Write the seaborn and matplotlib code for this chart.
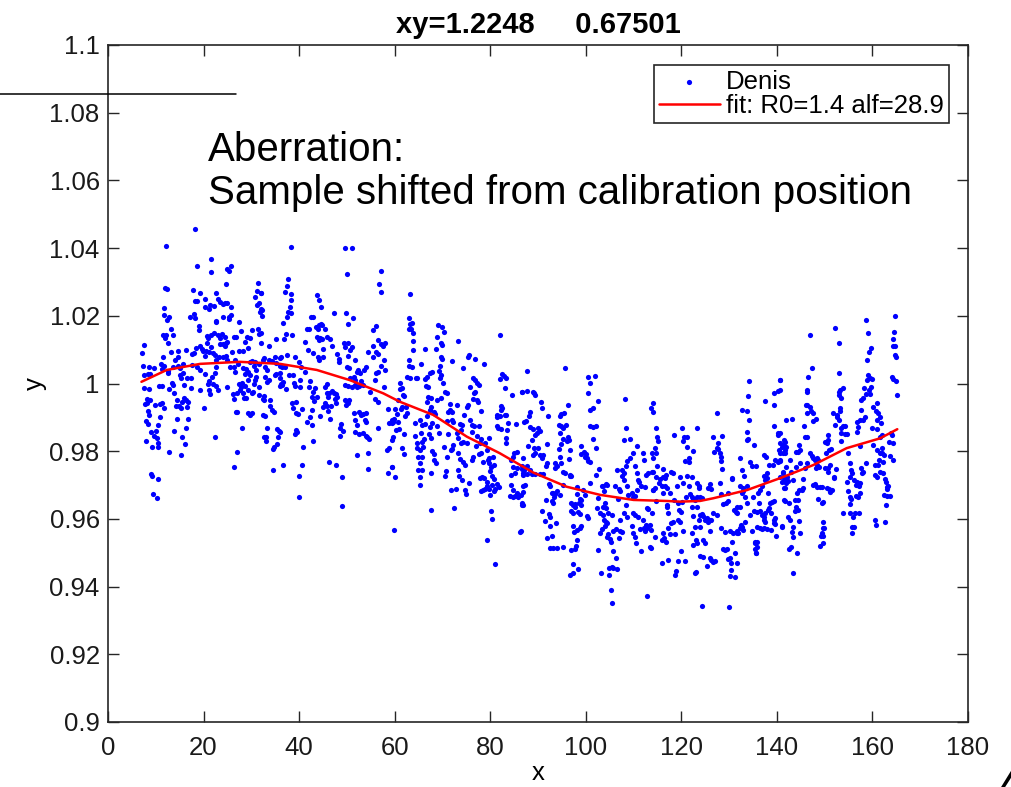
import matplotlib
matplotlib.use('Agg')
import matplotlib.pyplot as plt
import seaborn as sns
import pandas as pd
from matplotlib.lines import Line2D

# scatter points, grouped by x range
seg_a = [
    (7.5, 1.0115), (7.2, 1.0089), (7.3, 1.0052), (7.5, 1.0024), (7.5, 0.9987), (8.3, 1.0028), (8.5, 1.0050),
    (7.7, 0.9938), (8.2, 0.9941), (8.1, 0.9955), (8.8, 0.9951), (8.3, 0.9920), (8.6, 0.9907), (7.9, 0.9890),
    (8.3, 0.9880), (8.0, 0.9831), (9.0, 0.9857), (9.2, 0.9813), (9.1, 0.9732), (9.3, 0.9727), (10.4, 0.9718),
    (9.5, 0.9673), (10.2, 0.9663), (8.6, 0.9983), (8.8, 1.0028), (9.7, 1.0047), (10.0, 0.9859), (9.7, 0.9845),
    (10.2, 0.9839), (10.5, 0.9823), (10.4, 0.9811), (9.8, 0.9936), (10.9, 0.9938), (11.4, 0.9941), (10.7, 0.9993),
    (11.4, 0.9993), (11.1, 1.0058), (11.2, 1.0044), (11.8, 1.0053), (11.5, 1.0079), (11.6, 1.0142), (12.1, 1.0143),
    (12.0, 1.0135), (12.6, 1.0119), (13.1, 1.0160), (13.7, 1.0144), (13.1, 1.0094), (12.6, 1.0038), (13.3, 1.0002),
    (13.5, 0.9997), (12.8, 0.9985), (13.8, 0.9973), (12.6, 1.0030), (10.8, 0.9902), (10.5, 0.9877), (11.8, 0.9927),
    (13.9, 0.9861), (12.8, 0.9798), (14.4, 0.9896), (14.4, 0.9951), (14.2, 0.9935), (14.8, 0.9934), (13.5, 1.0050),
    (14.0, 1.0069), (14.6, 1.0077), (14.7, 1.0053), (15.1, 1.0045), (14.7, 1.0097), (11.7, 1.0201), (12.7, 1.0197),
    (12.4, 1.0189), (11.7, 1.0223), (12.1, 1.0405), (11.9, 1.0282), (12.3, 1.0280), (15.4, 0.9946), (15.9, 0.9956),
    (16.3, 0.9951), (16.8, 0.9946), (15.3, 0.9929), (16.5, 0.9931), (15.1, 1.0025), (15.6, 1.0032), (15.3, 1.0015),
    (15.8, 1.0057), (16.4, 1.0100), (16.6, 1.0017), (17.4, 1.0016), (16.0, 0.9996), (16.7, 0.9894), (16.3, 0.9870),
    (15.4, 0.9843), (16.1, 0.9821), (15.3, 0.9788), (17.5, 1.0086), (17.9, 1.0091), (18.4, 1.0105), (17.5, 1.0054),
    (18.6, 1.0050), (19.3, 1.0040), (17.4, 0.9986), (19.2, 0.9980), (17.2, 1.0197), (17.9, 1.0204), (18.2, 1.0194),
    (19.0, 1.0171), (19.0, 1.0158), (17.7, 1.0277), (18.2, 1.0245), (18.7, 1.0245), (19.2, 1.0268), (18.2, 1.0456),
    (18.7, 1.0346), (19.3, 1.0111), (19.6, 1.0102), (19.9, 1.0096), (20.2, 1.0081), (20.0, 0.9927), (20.4, 1.0251),
    (21.3, 1.0233), (20.2, 1.0225), (21.1, 1.0219), (22.1, 1.0229), (21.5, 1.0367), (21.6, 1.0330), (20.7, 1.0140),
    (20.9, 1.0135), (21.6, 1.0144), (20.8, 1.0119), (21.5, 1.0109), (20.5, 1.0097), (21.1, 1.0094), (22.1, 1.0149),
    (23.0, 1.0142), (22.7, 1.0183), (23.5, 1.0133), (23.9, 1.0146), (24.4, 1.0136), (21.9, 1.0089), (22.4, 1.0084),
    (23.2, 1.0079), (22.7, 1.0069), (20.4, 1.0028), (21.1, 1.0008), (20.9, 0.9998), (21.9, 0.9998), (21.2, 0.9981),
    (22.5, 0.9992), (21.4, 0.9969), (21.8, 1.0020), (22.4, 1.0030), (22.7, 1.0048), (23.0, 0.9981), (22.3, 0.9841),
    (23.1, 1.0251), (23.5, 1.0242), (24.5, 1.0237), (24.9, 1.0237), (24.1, 1.0235), (22.7, 1.0268), (23.4, 1.0117),
    (24.0, 1.0117), (24.4, 1.0111), (24.6, 1.0119), (24.9, 1.0123), (24.0, 1.0079), (24.7, 1.0081), (24.6, 1.0295),
    (25.7, 1.0348), (24.9, 1.0337), (25.3, 1.0332), (25.8, 1.0225), (25.4, 1.0197), (24.1, 1.0195), (25.3, 1.0191),
    (25.7, 1.0202), (22.7, 1.0184), (27.4, 1.0183), (27.8, 1.0156), (26.3, 1.0137), (26.8, 1.0138), (25.0, 1.0069),
    (26.0, 1.0094), (26.6, 1.0069), (27.3, 1.0059), (26.3, 1.0050), (26.6, 1.0035), (25.5, 1.0050), (25.0, 0.9991),
    (26.2, 0.9969), (26.3, 0.9955), (27.1, 0.9971), (26.7, 0.9917), (27.1, 0.9916), (28.0, 0.9870), (26.9, 0.9799),
    (26.4, 0.9752), (27.4, 1.0000), (27.8, 0.9990), (28.0, 1.0002), (28.7, 0.9993), (27.7, 0.9981), (28.3, 0.9971),
    (28.4, 0.9956), (28.9, 0.9956), (29.2, 0.9981), (28.3, 1.0045), (28.9, 1.0042), (29.2, 1.0035), (28.7, 1.0027),
    (29.7, 1.0024), (29.2, 1.0010), (28.7, 1.0124), (29.1, 1.0138), (29.7, 1.0133), (27.5, 1.0097), (28.2, 1.0097),
    (29.4, 1.0104), (30.2, 1.0158), (31.3, 1.0162), (31.6, 1.0146), (32.0, 1.0120), (29.4, 0.9912), (29.7, 0.9906),
    (30.1, 0.9912), (30.2, 0.9971), (30.4, 0.9974), (30.9, 1.0040), (30.6, 1.0053), (30.9, 1.0020), (30.8, 1.0010),
    (30.6, 1.0000), (31.5, 1.0058), (31.5, 0.9966), (31.5, 0.9991), (30.1, 1.0067), (30.8, 1.0064), (29.7, 1.0064),
    (31.1, 1.0274), (32.0, 1.0267), (30.8, 1.0255), (31.6, 1.0239), (31.2, 1.0233), (32.0, 1.0219), (31.8, 1.0212),
    (31.3, 1.0297), (32.5, 1.0069), (32.6, 0.9951), (32.5, 0.9907), (32.6, 0.9843),
]

seg_b = [
    (38.2, 1.0402), (49.7, 1.0399), (51.1, 1.0399), (50.0, 1.0323), (57.1, 1.0332), (56.7, 1.0293), (57.1, 1.0270),
    (37.7, 1.0310), (37.5, 1.0288), (37.0, 1.0269), (38.2, 1.0263), (38.4, 1.0247), (38.0, 1.0227), (37.7, 1.0210),
    (38.3, 1.0207), (37.4, 1.0195), (36.6, 1.0180), (37.3, 1.0146), (36.8, 1.0132), (35.2, 1.0130), (38.6, 1.0143),
    (32.2, 1.0217), (32.2, 1.0200), (32.1, 1.0266), (32.1, 1.0148), (33.6, 1.0110), (32.6, 1.0074), (33.7, 1.0068),
    (35.0, 1.0079), (36.0, 1.0074), (36.3, 1.0079), (37.4, 1.0084), (34.3, 1.0066), (35.1, 1.0062), (32.9, 1.0050),
    (33.3, 1.0041), (32.9, 1.0020), (33.7, 1.0010), (33.2, 1.0004), (34.9, 1.0025), (35.2, 1.0028), (36.1, 1.0052),
    (36.5, 1.0048), (37.0, 1.0048), (36.1, 1.0030), (35.9, 1.0015), (36.6, 1.0005), (36.5, 0.9997), (36.2, 1.0000),
    (37.2, 0.9985), (36.1, 0.9994), (37.9, 1.0026), (38.7, 1.0026), (39.1, 1.0077), (39.9, 1.0063), (40.3, 1.0050),
    (38.9, 1.0002), (39.1, 0.9993), (40.2, 1.0011), (41.2, 1.0034), (42.1, 0.9989), (42.3, 1.0008), (40.2, 0.9991),
    (32.6, 0.9964), (32.5, 0.9953), (32.9, 0.9904), (34.0, 0.9951), (34.0, 0.9935), (34.4, 0.9922), (34.7, 0.9917),
    (33.3, 0.9868), (33.0, 0.9843), (33.1, 0.9831), (34.5, 0.9806), (34.8, 0.9813), (35.3, 0.9821), (35.4, 0.9866),
    (35.7, 0.9860), (35.6, 0.9843), (35.9, 0.9857), (34.5, 0.9745), (36.6, 0.9759), (38.6, 0.9941), (39.4, 0.9944),
    (38.8, 0.9927), (39.4, 0.9912), (40.5, 0.9924), (39.8, 0.9909), (39.3, 0.9863), (39.5, 0.9857), (39.1, 0.9851),
    (40.9, 0.9813), (40.7, 0.9760), (40.0, 0.9728), (40.0, 0.9664), (41.6, 0.9887), (42.6, 0.9877), (43.0, 0.9830),
    (42.3, 0.9902), (42.8, 0.9922), (43.1, 0.9947), (42.6, 0.9961), (43.7, 0.9961), (43.0, 0.9976), (43.3, 0.9986),
    (44.4, 0.9905), (45.1, 0.9932), (45.5, 0.9943), (45.9, 0.9935), (46.0, 0.9961), (45.9, 1.0000), (45.4, 0.9991),
    (45.8, 0.9973), (46.3, 0.9971), (46.8, 0.9979), (47.2, 0.9971), (47.7, 0.9969), (48.0, 0.9961), (46.6, 0.9935),
    (46.1, 0.9920), (46.5, 0.9895), (47.5, 0.9953), (47.8, 0.9941), (46.3, 0.9769), (47.7, 0.9758), (49.0, 0.9725),
    (48.9, 0.9639), (48.8, 0.9880), (48.6, 0.9868), (49.1, 0.9861), (48.6, 0.9845), (49.8, 0.9937), (50.1, 0.9948),
    (50.4, 0.9951), (49.6, 0.9996), (50.3, 0.9994), (51.0, 0.9991), (51.6, 0.9995), (52.1, 0.9991), (52.5, 0.9993),
    (52.9, 1.0007), (53.4, 0.9997), (43.5, 1.0168), (44.2, 1.0172), (44.5, 1.0175), (44.8, 1.0173), (45.5, 1.0162),
    (43.9, 1.0160), (41.6, 1.0162), (42.1, 1.0161), (42.4, 1.0197), (43.0, 1.0195), (43.7, 1.0261), (44.2, 1.0247),
    (44.6, 1.0227), (47.2, 1.0207), (43.8, 1.0138), (44.4, 1.0135), (44.2, 1.0128), (44.7, 1.0130), (45.1, 1.0102),
    (45.8, 1.0138), (46.5, 1.0132), (46.8, 1.0111), (41.2, 1.0124), (41.9, 1.0099), (43.0, 1.0089), (43.9, 1.0077),
    (45.1, 1.0077), (44.2, 1.0069), (47.9, 1.0087), (48.4, 1.0072), (48.3, 1.0063), (49.4, 1.0119), (49.5, 1.0107),
    (50.2, 1.0081), (50.3, 1.0119), (50.7, 1.0099), (51.0, 1.0107), (49.8, 1.0207), (50.3, 1.0176), (51.2, 1.0194),
    (50.1, 1.0050), (50.4, 1.0045), (51.6, 1.0069), (52.4, 1.0040), (52.7, 1.0032), (53.6, 1.0040), (54.0, 1.0048),
    (50.7, 1.0015), (51.5, 1.0020), (51.8, 1.0011), (52.2, 1.0035), (49.7, 0.9951), (50.3, 0.9941), (51.4, 0.9912),
    (51.7, 0.9892), (52.1, 0.9877), (52.5, 0.9916), (52.9, 0.9907), (53.4, 0.9910), (53.9, 0.9912), (53.7, 0.9892),
    (54.1, 0.9887), (51.8, 0.9858), (52.6, 0.9851), (53.4, 0.9853), (53.9, 0.9846), (54.3, 0.9843), (54.6, 0.9835),
    (52.2, 0.9789), (54.5, 0.9794), (54.4, 0.9746), (54.5, 1.0094), (55.5, 1.0111), (56.1, 1.0094), (55.5, 1.0158),
    (56.1, 1.0170), (56.6, 1.0128), (55.5, 1.0079), (56.6, 1.0087), (57.1, 1.0117), (57.5, 1.0111), (58.0, 1.0121),
    (54.8, 0.9976), (55.9, 1.0011), (56.0, 1.0030), (56.6, 1.0035), (57.1, 1.0052), (57.8, 1.0070), (58.0, 1.0040),
    (56.6, 0.9868), (55.9, 0.9954), (56.5, 0.9946), (57.8, 0.9991), (58.7, 0.9924), (58.8, 0.9884), (59.4, 0.9892),
    (58.9, 0.9808), (58.3, 0.9803), (58.7, 0.9736), (59.4, 0.9754), (59.7, 0.9887),
]

seg_c = [
    (63.2, 1.0264), (62.9, 1.0193), (63.3, 1.0176), (63.7, 1.0178), (63.0, 1.0160), (63.4, 1.0161), (63.9, 1.0148),
    (63.9, 1.0126), (63.8, 1.0099), (63.1, 1.0070), (62.9, 1.0052), (63.7, 1.0049), (62.6, 1.0020), (63.3, 1.0015),
    (64.5, 1.0015), (64.7, 1.0015), (65.6, 1.0058), (66.3, 1.0101), (61.2, 1.0001), (61.5, 0.9986), (61.1, 0.9983),
    (61.7, 0.9966), (61.9, 0.9963), (60.8, 0.9951), (61.3, 0.9924), (61.6, 0.9932), (62.4, 0.9932), (62.5, 0.9914),
    (62.1, 0.9905), (60.1, 0.9926), (60.4, 0.9910), (59.9, 0.9894), (60.6, 0.9887), (59.4, 0.9882), (59.7, 0.9843),
    (59.4, 0.9833), (60.3, 0.9863), (61.0, 0.9865), (62.0, 0.9851), (61.5, 0.9810), (62.0, 0.9792), (59.4, 0.9754),
    (60.1, 0.9725), (59.9, 0.9567), (64.2, 0.9882), (64.3, 0.9845), (64.7, 0.9823), (65.3, 0.9892), (65.8, 0.9878),
    (66.3, 0.9880), (65.5, 0.9853), (66.2, 0.9837), (65.7, 0.9828), (64.7, 0.9809), (65.2, 0.9804), (66.0, 0.9813),
    (64.9, 0.9784), (65.7, 0.9782), (65.3, 0.9764), (64.9, 0.9744), (65.8, 0.9744), (65.4, 0.9725), (65.4, 0.9700),
    (66.3, 1.0014), (66.8, 1.0020), (67.3, 1.0032), (67.9, 1.0034), (66.9, 0.9991), (66.6, 0.9993), (67.0, 0.9961),
    (67.5, 0.9956), (66.7, 0.9946), (67.7, 0.9932), (67.4, 0.9922), (66.8, 0.9904), (67.9, 0.9882), (67.4, 0.9872),
    (68.2, 0.9917), (68.4, 0.9910), (68.8, 0.9951), (67.2, 0.9850), (67.5, 0.9838), (67.9, 0.9802), (68.2, 0.9792),
    (68.3, 0.9774), (68.7, 0.9766), (67.6, 0.9735), (67.7, 0.9626), (68.9, 0.9874), (68.6, 1.0101), (68.9, 1.0136),
    (69.0, 1.0173), (69.6, 1.0119), (70.0, 1.0113), (70.0, 1.0166), (70.3, 1.0152), (69.8, 1.0077), (70.0, 1.0073),
    (69.5, 1.0052), (69.3, 1.0038), (69.8, 1.0025), (69.5, 1.0015), (70.2, 1.0001), (70.9, 0.9971), (69.6, 0.9956),
    (70.5, 0.9976), (69.3, 0.9853), (70.4, 0.9813), (70.9, 0.9784), (70.7, 0.9742), (70.5, 0.9727), (71.2, 0.9917),
    (71.6, 0.9922), (71.0, 0.9890), (71.2, 0.9851), (71.8, 0.9804), (71.6, 0.9940), (71.9, 0.9917), (72.1, 0.9892),
    (72.3, 0.9887), (71.9, 0.9806), (72.3, 0.9817), (72.1, 1.0065), (73.2, 1.0126), (74.2, 1.0045), (73.0, 0.9937),
    (71.8, 0.9685), (72.4, 0.9631), (72.8, 0.9687), (73.0, 0.9853), (73.3, 0.9838), (73.8, 0.9863), (73.9, 0.9825),
    (74.4, 0.9828), (73.3, 0.9794), (73.7, 0.9776), (74.2, 0.9769), (74.7, 0.9759), (73.3, 0.9744), (73.5, 0.9727),
    (74.0, 0.9715), (74.7, 0.9685), (74.9, 0.9674), (75.5, 0.9707), (73.7, 0.9880), (74.0, 0.9877), (74.5, 0.9907),
    (75.2, 0.9825), (75.8, 0.9892), (76.2, 0.9877), (76.1, 0.9858), (76.6, 0.9873), (76.3, 0.9784), (76.2, 0.9774),
    (77.0, 0.9814), (75.1, 0.9932), (75.3, 0.9937), (75.8, 0.9991), (76.3, 1.0015), (76.8, 1.0010), (77.3, 1.0001),
    (75.4, 1.0079), (75.6, 1.0084), (76.8, 1.0071), (77.6, 0.9997), (76.6, 0.9971), (76.8, 0.9976), (77.2, 0.9951),
    (77.5, 0.9946), (76.3, 0.9953), (77.6, 0.9873), (77.3, 0.9845), (77.9, 0.9825), (78.1, 0.9835), (78.0, 0.9920),
    (77.7, 0.9792), (78.0, 0.9794), (78.4, 0.9769), (78.2, 0.9725), (78.6, 0.9720), (77.9, 0.9720), (78.0, 0.9683),
    (78.4, 0.9685), (78.9, 0.9687), (78.6, 1.0058), (79.0, 0.9825), (79.3, 0.9804), (79.7, 0.9838), (79.4, 0.9710),
    (79.5, 0.9774), (79.7, 0.9764), (80.1, 0.9754), (79.9, 0.9742), (80.3, 0.9727), (80.7, 0.9718), (79.4, 0.9697),
    (79.8, 0.9687), (80.3, 0.9699), (79.9, 0.9671), (79.4, 0.9538), (80.1, 0.9624), (80.3, 0.9599), (81.0, 0.9466),
    (80.7, 0.9683), (81.1, 0.9689), (81.5, 0.9703), (81.9, 0.9693), (80.5, 0.9784), (80.7, 0.9759), (79.7, 0.9779),
    (81.4, 0.9902), (81.5, 0.9907), (82.0, 0.9904), (82.3, 0.9934), (82.5, 0.9927), (82.3, 0.9922), (83.1, 0.9907),
    (83.4, 0.9907), (82.0, 1.0012), (82.4, 1.0028), (82.9, 1.0022), (83.2, 1.0015), (83.1, 0.9986), (82.0, 1.0142),
    (81.4, 0.9873), (81.6, 0.9868), (82.2, 0.9866), (83.7, 0.9882), (83.6, 0.9863), (83.3, 0.9838), (83.4, 0.9825),
    (84.6, 0.9966), (85.4, 0.9880), (85.5, 0.9799), (85.0, 0.9796), (84.4, 0.9774), (84.7, 0.9784), (84.8, 0.9754),
    (85.5, 0.9749), (85.2, 0.9735), (84.3, 0.9730), (84.3, 0.9700), (84.8, 0.9685), (85.5, 0.9676), (85.9, 0.9666),
    (86.4, 0.9671), (86.8, 0.9680), (86.6, 0.9641), (86.2, 0.9562), (86.6, 0.9976), (87.1, 0.9887), (86.6, 0.9746),
    (86.9, 0.9735), (85.2, 0.9667), (84.1, 0.9667), (84.7, 0.9664),
]

seg_d = [
    (87.8, 1.0038), (86.6, 0.9976), (87.6, 0.9979), (89.0, 0.9976), (89.4, 0.9966), (89.2, 0.9971), (90.6, 0.9945),
    (90.9, 0.9929), (88.3, 0.9917), (88.1, 0.9904), (87.4, 0.9890), (88.3, 0.9871), (89.0, 0.9865), (89.4, 0.9848),
    (89.7, 0.9855), (90.1, 0.9868), (90.4, 0.9861), (88.7, 0.9834), (89.2, 0.9809), (89.9, 0.9808), (89.0, 0.9789),
    (89.4, 0.9794), (90.4, 0.9789), (91.1, 0.9789), (90.8, 0.9779), (86.9, 0.9779), (88.0, 0.9816), (86.6, 0.9757),
    (87.6, 0.9755), (87.1, 0.9743), (86.8, 0.9730), (88.3, 0.9743), (87.8, 0.9732), (88.7, 0.9732), (89.4, 0.9733),
    (90.4, 0.9732), (91.1, 0.9732), (91.8, 0.9765), (91.7, 0.9755), (86.9, 0.9696), (87.3, 0.9699), (86.6, 0.9648),
    (86.9, 0.9641), (86.4, 0.9563), (92.0, 0.9904), (91.9, 0.9822), (92.2, 0.9704), (92.5, 0.9696), (93.6, 0.9750),
    (93.9, 0.9755), (92.9, 0.9676), (93.2, 0.9676), (93.6, 0.9674), (93.9, 0.9681), (94.7, 0.9671), (93.4, 0.9666),
    (92.9, 0.9654), (93.1, 0.9647), (91.7, 0.9656), (90.8, 0.9622), (91.5, 0.9595), (92.4, 0.9615), (92.6, 0.9607),
    (92.5, 0.9580), (93.8, 0.9587), (92.9, 0.9550), (91.8, 0.9543), (92.5, 0.9514), (93.2, 0.9513), (93.9, 0.9513),
    (95.3, 0.9518), (94.3, 0.9878), (94.6, 0.9855), (94.9, 0.9873), (95.3, 0.9868), (95.8, 0.9878), (94.6, 0.9904),
    (94.9, 0.9910), (95.4, 0.9914), (95.3, 0.9836), (96.2, 0.9843), (96.4, 0.9834), (96.7, 0.9804), (96.0, 0.9829),
    (94.9, 0.9822), (94.3, 0.9807), (95.7, 1.0045), (96.2, 0.9937), (93.6, 0.9765), (94.9, 0.9765), (94.5, 0.9784),
    (95.2, 0.9740), (95.6, 0.9737), (96.6, 0.9730), (96.9, 0.9727), (95.3, 0.9699), (96.5, 0.9776), (96.7, 0.9727),
    (97.0, 0.9646), (97.4, 0.9641), (97.7, 0.9644), (97.0, 0.9622), (97.4, 0.9617), (97.7, 0.9636), (98.4, 0.9619),
    (98.8, 0.9615), (97.3, 0.9579), (97.6, 0.9560), (98.2, 0.9568), (98.7, 0.9573), (99.0, 0.9579), (98.1, 0.9538),
    (97.9, 0.9520), (97.0, 0.9508), (97.7, 0.9510), (97.4, 0.9467), (97.3, 0.9440), (96.7, 0.9433), (98.4, 0.9453),
    (98.1, 0.9674), (98.2, 0.9693), (98.8, 0.9658), (99.1, 0.9641), (98.6, 0.9648), (99.1, 0.9816), (99.6, 0.9799),
    (100.0, 0.9792), (99.8, 0.9784), (100.2, 0.9779), (100.5, 0.9771), (100.9, 0.9769), (99.1, 0.9792),
    (99.5, 0.9684), (99.8, 0.9671), (99.1, 0.9656), (100.5, 1.0019), (101.9, 1.0023), (100.9, 1.0001),
    (100.5, 0.9971), (100.9, 0.9922), (101.6, 0.9927), (100.9, 0.9875), (101.6, 0.9871), (102.1, 0.9873),
    (101.6, 0.9835), (102.1, 0.9809), (102.6, 0.9947), (100.9, 0.9707), (100.2, 0.9609), (100.5, 0.9602),
    (102.1, 0.9730), (102.8, 0.9747), (102.5, 0.9661), (102.4, 0.9632), (103.0, 0.9617), (103.3, 0.9696),
    (103.0, 0.9558), (103.3, 0.9570), (102.6, 0.9509), (103.2, 0.9440), (103.7, 0.9696), (104.2, 0.9704),
    (104.5, 0.9701), (103.8, 0.9681), (104.0, 0.9648), (103.5, 0.9636), (104.2, 0.9632), (103.7, 0.9612),
    (103.8, 0.9597), (104.2, 0.9592), (104.5, 0.9589), (104.0, 0.9579), (104.7, 0.9556), (104.5, 0.9548),
    (105.1, 0.9540), (105.2, 0.9533), (104.7, 0.9617), (105.4, 0.9612), (104.9, 0.9454), (105.4, 0.9459),
    (104.9, 0.9435), (105.8, 0.9454), (106.3, 0.9484), (106.5, 0.9451), (105.2, 0.9390), (105.4, 0.9351),
    (105.6, 0.9504), (105.8, 0.9563), (106.3, 0.9570), (106.8, 0.9658), (107.2, 0.9681), (107.5, 0.9727),
    (107.9, 0.9715), (108.6, 0.9696), (106.1, 0.9696), (107.0, 0.9688), (106.5, 0.9745), (107.5, 0.9745),
    (108.0, 0.9735), (108.4, 0.9757), (108.7, 0.9772), (109.3, 0.9779), (107.9, 0.9834), (109.3, 0.9836),
    (108.4, 0.9868), (108.2, 0.9954), (107.2, 0.9597), (107.2, 0.9563), (107.5, 0.9560), (107.0, 0.9545),
    (107.9, 0.9617), (108.4, 0.9641), (108.7, 0.9607), (108.9, 0.9671), (109.6, 0.9676), (109.9, 0.9666),
    (110.3, 0.9668), (110.7, 0.9684), (109.9, 0.9617), (110.3, 0.9612), (111.0, 0.9607), (109.6, 0.9578),
    (109.9, 0.9558), (110.3, 0.9548), (110.5, 0.9530), (111.4, 0.9570), (112.2, 0.9573), (112.4, 0.9563),
    (112.6, 0.9582), (110.7, 0.9816), (109.9, 0.9794), (110.3, 0.9755), (110.7, 0.9735), (111.0, 0.9715),
    (111.2, 0.9710), (111.5, 0.9698), (112.0, 0.9794), (112.2, 0.9774), (112.6, 0.9730), (113.1, 0.9737),
    (113.8, 0.9740), (112.4, 0.9694), (112.8, 0.9632), (113.1, 0.9629), (112.0, 0.9597), (112.8, 0.9573),
    (113.4, 0.9516), (112.9, 0.9373), (111.5, 0.9504), (113.6, 0.9927), (114.0, 0.9917), (114.1, 0.9942),
    (114.0, 0.9686),
]

seg_e = [
    (114.7, 0.9870), (115.0, 0.9843), (115.2, 0.9829), (114.5, 0.9809), (114.8, 0.9794), (113.8, 0.9794),
    (114.1, 0.9779), (115.0, 0.9757), (114.0, 0.9740), (114.8, 0.9725), (115.5, 0.9717), (116.2, 0.9747),
    (116.7, 0.9730), (116.1, 0.9725), (116.6, 0.9720), (115.4, 0.9705), (115.9, 0.9696), (116.6, 0.9696),
    (116.9, 0.9691), (116.2, 0.9676), (114.5, 0.9691), (114.1, 0.9686), (114.7, 0.9654), (113.8, 0.9617),
    (113.4, 0.9582), (113.6, 0.9568), (113.6, 0.9513), (114.5, 0.9548), (116.1, 0.9558), (115.9, 0.9538),
    (116.8, 0.9533), (116.4, 0.9543), (117.6, 0.9556), (117.3, 0.9573), (117.8, 0.9589), (118.3, 0.9592),
    (117.3, 0.9617), (116.9, 0.9636), (117.1, 0.9641), (117.6, 0.9676), (117.9, 0.9740), (118.3, 0.9737),
    (118.5, 0.9848), (119.0, 0.9698), (118.5, 0.9656), (119.4, 0.9646), (120.1, 0.9651), (119.6, 0.9625),
    (119.9, 0.9619), (119.4, 0.9597), (119.7, 0.9592), (120.4, 0.9563), (118.7, 0.9556), (115.9, 0.9469),
    (117.3, 0.9479), (118.7, 0.9435), (118.9, 0.9447), (119.4, 0.9477), (120.8, 0.9476), (119.9, 0.9504),
    (120.2, 0.9868), (120.3, 0.9829), (120.6, 0.9842), (121.1, 0.9842), (121.1, 0.9812), (120.8, 0.9772),
    (121.7, 0.9779), (121.7, 0.9767), (122.5, 0.9802), (123.2, 0.9870), (119.7, 0.9725), (120.4, 0.9705),
    (121.1, 0.9727), (122.2, 0.9725), (121.5, 0.9696), (121.8, 0.9673), (122.2, 0.9664), (122.5, 0.9658),
    (121.0, 0.9666), (122.2, 0.9636), (122.9, 0.9656), (123.2, 0.9666), (123.2, 0.9636), (123.9, 0.9612),
    (124.3, 0.9614), (123.8, 0.9597), (123.9, 0.9575), (124.6, 0.9609), (122.5, 0.9609), (122.9, 0.9577),
    (123.1, 0.9538), (122.4, 0.9523), (122.2, 0.9558), (123.2, 0.9528), (123.3, 0.9705), (123.6, 0.9696),
    (123.8, 0.9691), (124.0, 0.9666), (124.3, 0.9661), (125.6, 0.9691), (126.0, 0.9703), (126.3, 0.9688),
    (124.6, 0.9538), (124.9, 0.9528), (124.6, 0.9487), (123.9, 0.9489), (125.4, 0.9461), (126.1, 0.9484),
    (126.3, 0.9479), (126.7, 0.9474), (127.1, 0.9477), (124.3, 0.9344), (122.9, 0.9439), (123.1, 0.9444),
    (124.9, 0.9597), (125.3, 0.9602), (125.6, 0.9592), (126.0, 0.9597), (126.3, 0.9597), (126.0, 0.9563),
    (126.7, 0.9617), (127.4, 0.9612), (126.7, 0.9841), (126.8, 0.9799), (127.4, 0.9809), (127.7, 0.9806),
    (128.1, 0.9794), (128.2, 0.9784), (128.4, 0.9772), (128.6, 0.9747), (127.4, 0.9914), (128.6, 0.9846),
    (127.7, 0.9824), (128.1, 0.9705), (128.4, 0.9674), (128.8, 0.9644), (129.3, 0.9646), (129.8, 0.9676),
    (129.8, 0.9653), (130.7, 0.9717), (130.5, 0.9720), (128.4, 0.9573), (129.1, 0.9560), (128.8, 0.9511),
    (129.1, 0.9507), (129.5, 0.9511), (130.2, 0.9484), (129.8, 0.9481), (130.3, 0.9469), (130.4, 0.9449),
    (130.1, 0.9430), (131.2, 0.9428), (129.9, 0.9341), (131.6, 0.9471), (131.2, 0.9499), (130.5, 0.9533),
    (130.9, 0.9558), (130.2, 0.9563), (131.0, 0.9627), (131.4, 0.9619), (131.7, 0.9617), (132.3, 0.9636),
    (131.6, 0.9636), (132.4, 0.9582), (132.3, 0.9573), (131.9, 0.9558), (131.6, 0.9565), (132.3, 0.9779),
    (132.8, 0.9743), (133.1, 0.9727), (133.7, 0.9696), (132.3, 0.9696), (133.0, 0.9691), (132.6, 0.9676),
    (133.3, 0.9664), (133.0, 0.9681), (132.8, 0.9922), (133.7, 0.9920), (134.2, 0.9893), (133.8, 0.9858),
    (133.7, 0.9834), (134.0, 0.9836), (135.2, 0.9819), (134.4, 0.9767), (134.8, 0.9757), (135.6, 0.9757),
    (134.2, 1.0006), (134.0, 0.9964), (135.1, 0.9666), (135.2, 0.9622), (134.4, 0.9612), (135.8, 0.9619),
    (133.7, 0.9646), (133.3, 0.9592), (133.0, 0.9566), (132.6, 0.9575), (131.7, 0.9558), (135.4, 0.9533),
    (135.8, 0.9518), (135.6, 0.9499), (134.7, 0.9563), (136.1, 0.9676), (136.5, 0.9686), (136.8, 0.9696),
    (137.5, 0.9715), (137.2, 0.9727), (138.0, 0.9720), (137.9, 0.9735), (137.2, 0.9789), (137.7, 0.9784),
    (138.4, 0.9760), (139.1, 0.9760), (139.6, 0.9774), (140.3, 0.9769), (140.7, 0.9772), (136.3, 0.9646),
    (136.5, 0.9622), (136.8, 0.9612), (137.2, 0.9607), (137.5, 0.9617), (136.5, 0.9573), (136.8, 0.9570),
    (137.2, 0.9573), (137.9, 0.9570), (137.5, 0.9592), (137.2, 0.9597), (138.2, 0.9676), (138.6, 0.9646),
    (138.9, 0.9651), (139.4, 0.9654), (138.4, 0.9632), (138.7, 0.9617), (139.3, 0.9597), (139.6, 0.9602),
    (139.5, 0.9585), (139.9, 0.9550), (138.7, 0.9568), (139.3, 0.9589), (138.2, 0.9627), (135.4, 0.9510),
    (135.6, 0.9500), (135.8, 0.9533), (135.4, 0.9528), (135.8, 0.9575), (137.5, 0.9947), (139.3, 0.9937),
    (139.4, 0.9971), (140.3, 0.9979), (140.7, 1.0009), (139.4, 0.9875), (140.3, 0.9848), (140.3, 0.9855),
    (140.7, 0.9824), (141.0, 0.9812), (141.4, 0.9816), (140.5, 0.9804), (141.2, 0.9735), (141.4, 0.9725),
    (141.4, 0.9656), (141.0, 0.9578), (141.5, 0.9834), (141.7, 0.9794), (141.6, 0.9691), (141.4, 0.9715),
]

seg_f = [
    (140.6, 1.0011), (140.6, 0.9981), (140.6, 0.9853), (140.6, 0.9794), (140.6, 0.9774), (140.6, 0.9725),
    (141.0, 0.9710), (141.0, 0.9577), (141.2, 0.9818), (141.7, 0.9828), (142.0, 0.9813), (141.3, 0.9794),
    (141.7, 0.9804), (142.0, 0.9754), (141.3, 0.9740), (141.7, 0.9717), (142.2, 0.9725), (142.4, 0.9713),
    (141.5, 0.9690), (142.0, 0.9705), (142.7, 0.9774), (142.9, 0.9740), (143.3, 0.9715), (143.1, 0.9894),
    (142.0, 0.9892), (144.0, 0.9799), (144.1, 0.9754), (144.8, 0.9764), (144.5, 0.9799), (144.9, 0.9804),
    (144.7, 0.9818), (141.7, 0.9654), (142.6, 0.9646), (142.4, 0.9605), (142.7, 0.9597), (143.3, 0.9575),
    (143.1, 0.9562), (143.8, 0.9622), (144.0, 0.9636), (144.3, 0.9676), (143.8, 0.9656), (144.5, 0.9656),
    (144.5, 0.9626), (144.7, 0.9595), (144.8, 0.9559), (143.4, 0.9548), (142.9, 0.9518), (142.6, 0.9510),
    (143.4, 0.9440), (144.3, 0.9498), (144.7, 0.9686), (145.2, 0.9684), (145.4, 0.9691), (145.5, 0.9717),
    (145.9, 0.9750), (146.2, 0.9764), (145.9, 0.9843), (146.4, 0.9843), (145.7, 0.9873), (146.1, 0.9937),
    (146.4, 0.9937), (146.9, 0.9932), (146.4, 0.9912), (147.1, 0.9920), (147.6, 0.9912), (147.5, 0.9890),
    (148.2, 0.9894), (146.9, 1.0144), (147.3, 1.0047), (146.6, 1.0020), (146.2, 0.9981), (146.4, 0.9976),
    (146.9, 0.9794), (147.3, 0.9786), (147.6, 0.9779), (148.0, 0.9774), (148.3, 0.9779), (148.7, 0.9774),
    (147.6, 0.9700), (148.0, 0.9703), (148.3, 0.9695), (149.0, 0.9693), (149.4, 0.9695), (148.7, 0.9659),
    (149.4, 0.9648), (149.7, 0.9651), (149.6, 0.9592), (149.7, 0.9574), (149.4, 0.9557), (149.2, 0.9550),
    (149.6, 0.9528), (149.0, 0.9520), (149.7, 0.9550), (149.9, 0.9572), (148.3, 0.9759), (148.9, 0.9754),
    (148.2, 0.9750), (150.1, 0.9750), (150.1, 0.9828), (150.4, 0.9823), (150.8, 0.9833), (150.3, 0.9794),
    (151.0, 0.9804), (151.3, 0.9806), (151.1, 0.9759), (150.8, 0.9750), (150.4, 0.9690), (151.0, 0.9688),
    (151.5, 0.9684), (151.2, 0.9678), (150.8, 0.9740), (151.9, 0.9720), (150.8, 0.9848), (151.8, 0.9912),
    (152.2, 0.9877), (152.5, 0.9902), (153.1, 0.9892), (152.6, 0.9907), (153.2, 0.9920), (152.2, 1.0163),
    (153.1, 1.0119), (152.9, 1.0030), (153.1, 0.9976), (153.3, 0.9981), (153.9, 0.9986), (152.9, 0.9966),
    (153.5, 0.9956), (153.2, 0.9927), (153.9, 0.9875), (154.2, 0.9873), (153.5, 0.9868), (153.4, 0.9853),
    (154.2, 0.9851), (154.6, 0.9851), (153.5, 0.9831), (152.4, 0.9747), (152.0, 0.9725), (154.9, 0.9794),
    (155.3, 0.9766), (155.6, 0.9744), (155.8, 0.9735), (155.2, 0.9725), (156.1, 0.9715), (156.7, 0.9710),
    (156.6, 0.9700), (154.6, 0.9710), (154.9, 0.9681), (155.4, 0.9666), (155.6, 0.9658), (155.3, 0.9644),
    (155.4, 0.9616), (156.0, 0.9605), (155.8, 0.9577), (156.1, 0.9575), (155.8, 0.9559), (156.3, 0.9618),
    (157.2, 0.9616), (153.9, 0.9616), (156.6, 0.9668), (157.0, 0.9666), (157.4, 0.9676), (156.7, 0.9887),
    (157.0, 0.9871), (156.8, 0.9858), (157.4, 0.9892), (158.1, 0.9892), (158.4, 0.9900), (157.7, 0.9922),
    (157.7, 0.9950), (158.0, 0.9956), (158.2, 0.9986), (158.6, 0.9969), (159.5, 0.9969), (159.3, 0.9981),
    (158.9, 1.0011), (159.1, 1.0026), (159.5, 1.0015), (160.0, 1.0013), (158.6, 1.0188), (159.0, 1.0148),
    (159.6, 1.0104), (159.3, 1.0094), (158.8, 1.0070), (157.4, 0.9814), (157.7, 0.9750), (158.1, 0.9740),
    (157.9, 0.9735), (158.6, 0.9766), (157.1, 0.9697), (157.4, 0.9707), (159.8, 0.9991), (160.2, 0.9932),
    (160.9, 0.9942), (160.7, 0.9920), (161.2, 0.9912), (161.6, 0.9902), (161.7, 0.9882), (160.9, 0.9892),
    (160.0, 0.9868), (160.9, 0.9865), (161.6, 0.9843), (161.9, 0.9848), (160.2, 0.9818), (160.9, 0.9804),
    (161.6, 0.9794), (161.4, 0.9774), (161.9, 0.9809), (162.1, 0.9794), (162.4, 0.9789), (162.3, 0.9769),
    (160.5, 0.9759), (161.2, 0.9759), (161.6, 0.9740), (160.9, 0.9725), (160.5, 0.9730), (162.3, 0.9737),
    (162.6, 0.9717), (162.8, 0.9710), (163.1, 0.9695), (163.3, 0.9697), (163.0, 0.9687), (162.4, 0.9671),
    (163.0, 0.9668), (163.7, 0.9668), (162.8, 0.9641), (162.6, 0.9592), (160.5, 0.9597), (160.7, 0.9582),
    (163.5, 0.9828), (164.0, 0.9848), (164.2, 0.9823), (163.8, 0.9853), (163.7, 0.9786), (164.4, 0.9774),
    (164.7, 1.0198), (164.5, 1.0153), (164.2, 1.0131), (164.7, 1.0111), (164.4, 1.0111), (164.8, 1.0084),
    (164.9, 1.0079), (164.0, 1.0018), (164.4, 1.0012), (164.9, 1.0008), (165.1, 0.9966),
]

# fitted curve, read at points along the red line
fit_x = [7.0, 12.3, 19.3, 27.6, 36.0, 43.7, 50.6, 57.6, 61.1, 68.1, 75.1, 82.0, 89.0,
         96.0, 103.0, 110.0, 116.9, 119.7, 123.9, 126.7, 133.7, 140.6, 147.6, 154.6, 161.6, 165.2]
fit_y = [1.0005, 1.0040, 1.0058, 1.0064, 1.0058, 1.0040, 1.0010, 0.9971, 0.9946, 0.9907, 0.9843, 0.9794, 0.9737,
         0.9695, 0.9671, 0.9656, 0.9653, 0.9651, 0.9653, 0.9661, 0.9685, 0.9720, 0.9759, 0.9809, 0.9838, 0.9865]

x_ticks = [0, 20, 40, 60, 80, 100, 120, 140, 160, 180]
y_ticks = [0.9, 0.92, 0.94, 0.96, 0.98, 1.0, 1.02, 1.04, 1.06, 1.08, 1.1]
y_tick_labels = ['0.9', '0.92', '0.94', '0.96', '0.98', '1', '1.02', '1.04', '1.06', '1.08', '1.1']

title = 'xy=1.2248     0.67501'
note_lines = ['Aberration:', 'Sample shifted from calibration position']

sns.set_style('ticks')
plt.rcParams['font.family'] = ['Liberation Sans', 'DejaVu Sans']
plt.rcParams['text.color'] = 'black'
plt.rcParams['axes.labelcolor'] = 'black'

fig = plt.figure(figsize=(10.12, 7.87), dpi=100)
ax = fig.add_axes([108 / 1012, 65 / 787, 860 / 1012, 677 / 787])

pts = pd.DataFrame(seg_a + seg_b + seg_c + seg_d + seg_e + seg_f, columns=['x', 'y'])
fit = pd.DataFrame({'x': fit_x, 'y': fit_y})

sns.scatterplot(data=pts, x='x', y='y', ax=ax, s=14, color='#0000ff', linewidth=0, label='Denis')
sns.lineplot(data=fit, x='x', y='y', ax=ax, color='#ff0000', linewidth=1.8, sort=False,
             label='fit: R0=1.4 alf=28.9')

ax.set_xlim(0, 180)
ax.set_ylim(0.9, 1.1)
ax.set_xticks(x_ticks)
ax.set_yticks(y_ticks)
ax.set_yticklabels(y_tick_labels)
ax.tick_params(direction='in', top=True, right=True, length=8, width=1, labelsize=18.5,
               color='#262626', labelcolor='#1a1a1a')
ax.tick_params(axis='y', pad=6)
ax.tick_params(axis='x', pad=10)
for sp in ax.spines.values():
    sp.set_linewidth(1.2)
    sp.set_color('#262626')

ax.set_xlabel('x', fontsize=18.5, labelpad=1)
ax.set_ylabel('y', fontsize=18.5, labelpad=2)
ax.set_title(title, fontsize=21, fontweight='bold', pad=9)

ax.text(20.9, 1.0690, note_lines[0], fontsize=29, va='center', ha='left')
ax.text(20.9, 1.0563, note_lines[1], fontsize=29, va='center', ha='left')

leg = ax.legend(loc='upper right', bbox_to_anchor=(0.978, 0.9705), borderaxespad=0, fontsize=18.5,
                frameon=True, fancybox=False, framealpha=1, edgecolor='#262626',
                handlelength=2.35, handletextpad=0.25, borderpad=0.2, labelspacing=0.0)
leg.get_frame().set_linewidth(1.2)

# stray line and glyph visible in the screenshot
fig.add_artist(Line2D([0, 236 / 1012], [1 - 94 / 787, 1 - 94 / 787], color='black', linewidth=1.1))
fig.text(1000 / 1012, 1 - 770 / 787, '4', fontsize=26, fontweight='bold', va='top', ha='left')

fig.savefig('out.png', dpi=100)
